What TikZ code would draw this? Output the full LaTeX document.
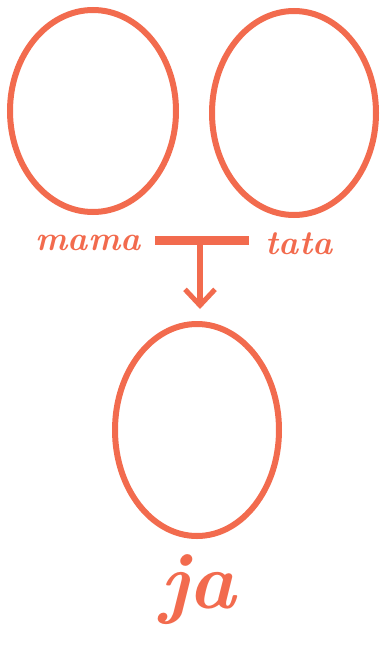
\documentclass[tikz,border=0pt]{standalone}
\usetikzlibrary{shapes.geometric,arrows.meta}
\definecolor{chalk}{HTML}{F26B4E}
\begin{document}
\begin{tikzpicture}[x=1pt,y=-1pt,
  oval/.style={draw=chalk,line width=6pt,ellipse,inner sep=0pt},
  lbl/.style={text=chalk,font=\fontsize{34}{38}\selectfont\bfseries\itshape,inner sep=0pt},
  link/.style={draw=chalk,line width=9pt},
  arr/.style={draw=chalk,line width=6pt,shorten >=12pt,-{Straight Barb[length=16pt,width=30pt,line width=5pt]}}]
\useasboundingbox (0,0) rectangle (380,645);
\node[oval,minimum width=166pt,minimum height=202pt] (mom) at (93,111) {};
\node[oval,minimum width=164pt,minimum height=204pt] (dad) at (294,113) {};
\node[oval,minimum width=164pt,minimum height=212pt] (me) at (197,430) {};
\node[lbl] (mama) at (88,243) {mama};
\node[lbl] (tata) at (299,244) {tata};
\node[lbl,font=\fontsize{80}{84}\selectfont\bfseries\itshape] (ja) at (198,590) {ja};
\coordinate (barL) at (155,240);
\coordinate (barR) at (249,240);
\coordinate (mid) at (200,240);
\draw[link] (barL) -- (barR);
\draw[arr] (mid) -- (mid |- me.north);
\end{tikzpicture}
\end{document}
